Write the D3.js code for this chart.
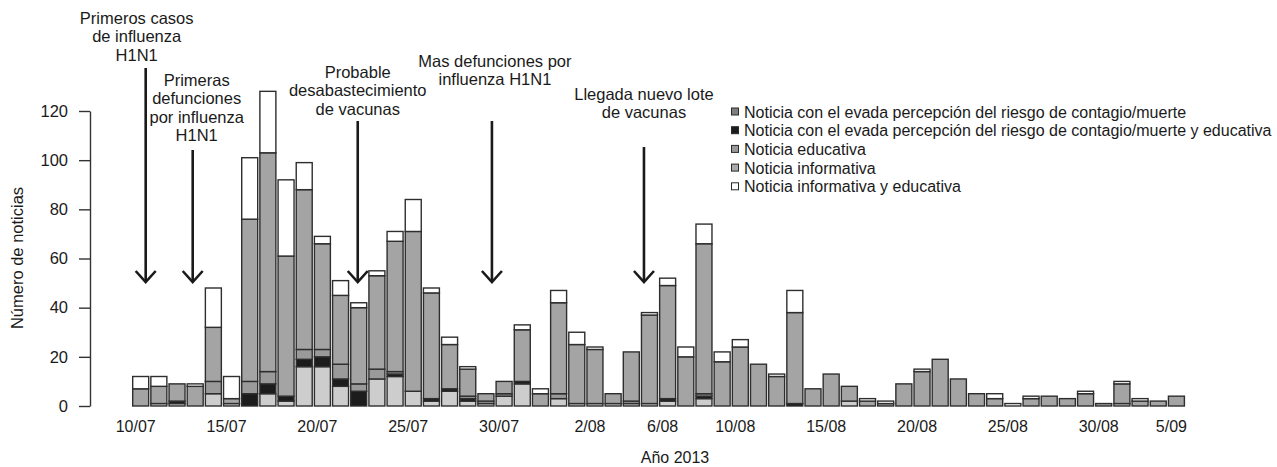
<!DOCTYPE html>
<html><head><meta charset="utf-8">
<script src="https://cdn.jsdelivr.net/npm/d3@7"></script>
<style>
body{margin:0;background:#fff}
svg{display:block}
text{font-family:"Liberation Sans",Arial,Helvetica,sans-serif;fill:#1a1a1a}
</style>
</head><body>
<svg id="c" width="1277" height="467"></svg>
<script>
// ---------- data ----------
const dates = ["10/07","11/07","12/07","13/07","14/07","15/07","16/07","17/07","18/07","19/07",
  "20/07","21/07","22/07","23/07","24/07","25/07","26/07","27/07","28/07","29/07",
  "30/07","31/07","1/08","2/08","3/08","4/08","5/08","6/08","7/08","8/08",
  "9/08","10/08","11/08","12/08","13/08","14/08","15/08","16/08","17/08","18/08",
  "19/08","20/08","21/08","22/08","23/08","24/08","25/08","26/08","27/08","28/08",
  "29/08","30/08","31/08","1/09","2/09","3/09","4/09","5/09"];
const riesgo      = [0,1,1,0,5,1,0,5,2,16, 16,8,0,11,12,6,2,6,2,1, 4,9,0,3,1,1,1,1,1,2, 0,3,0,0,0,0,0,0,0,2, 0,0,0,0,0,0,0,0,0,0, 0,0,0,0,1,0,0,0];
const riesgoEdu   = [0,0,1,0,0,0,5,4,2,3, 4,3,6,0,1,0,1,1,1,0, 0,1,0,0,0,0,0,0,0,1, 0,1,0,0,0,0,1,0,0,0, 0,0,0,0,0,0,0,0,0,0, 0,0,0,0,0,0,0,0];
const educativa   = [0,0,0,0,5,0,5,5,0,4, 3,6,3,4,1,0,0,0,1,1, 1,0,0,2,0,0,0,1,0,0, 0,1,0,0,0,0,0,0,0,0, 0,0,0,0,0,0,0,0,0,0, 0,0,0,0,0,0,0,0];
const informativa = [7,7,7,8,22,2,66,89,57,65, 43,28,31,38,53,65,43,18,11,3, 5,21,5,37,24,22,4,20,36,46, 20,61,18,24,17,12,37,7,13,6, 2,1,9,14,19,11,5,3,0,3, 4,3,5,1,8,2,2,4];
const infoEdu     = [5,4,0,1,16,9,25,25,31,11, 3,6,2,2,4,13,2,3,1,0, 0,2,2,5,5,1,0,0,1,3, 4,8,4,3,0,1,9,0,0,0, 1,1,0,1,0,0,0,2,1,1, 0,0,1,0,1,1,0,0];
const seriesNames = [
  "Noticia con el evada percepción del riesgo de contagio/muerte",
  "Noticia con el evada percepción del riesgo de contagio/muerte y educativa",
  "Noticia educativa",
  "Noticia informativa",
  "Noticia informativa y educativa"];
const seriesFill  = ["#cdcdcd","#1c1c1c","#9a9a9a","#a4a4a4","#ffffff"];
const legendFill  = ["#7e7e7e","#1c1c1c","#999999","#aaaaaa","#ffffff"];
const yTicks = [0,20,40,60,80,100,120];
const tickLabels = ["10/07","15/07","20/07","25/07","30/07","2/08","6/08","10/08","15/08","20/08","25/08","30/08","5/09"];
const tickAt     = ["10/07","15/07","20/07","25/07","30/07","4/08","8/08","12/08","17/08","22/08","27/08","1/09","5/09"];
const eventLines = [
  ["Primeros casos","de influenza","H1N1"],
  ["Primeras","defunciones","por influenza","H1N1"],
  ["Probable","desabastecimiento","de vacunas"],
  ["Mas defunciones por","influenza H1N1"],
  ["Llegada nuevo lote","de vacunas"]];
const eventAt = ["10/07","13/07","22/07","29/07","7/08"];

// ---------- layout ----------
const svg = d3.select("#c");
const keys = ["r","re","e","i","ie"];
const table = dates.map((d,k)=>({date:d, r:riesgo[k], re:riesgoEdu[k], e:educativa[k], i:informativa[k], ie:infoEdu[k]}));
const stack = d3.stack().keys(keys)(table);

const x = d3.scaleBand().domain(dates).range([131.6,1185.5]).paddingInner(0.12).paddingOuter(0.06);
const y = d3.scaleLinear().domain([0,120]).range([406,111]);

// bars
svg.append("g").selectAll("g").data(stack).join("g")
  .attr("fill",(d,k)=>seriesFill[k])
  .selectAll("rect").data(d=>d.filter(s=>s[1]>s[0])).join("rect")
  .attr("x",d=>x(d.data.date))
  .attr("width",x.bandwidth())
  .attr("y",d=>y(d[1]))
  .attr("height",d=>y(d[0])-y(d[1]))
  .attr("stroke","#2e2e2e").attr("stroke-width",1.4);

// y axis
const ya = svg.append("g").attr("transform","translate(90,0)")
  .call(d3.axisLeft(y).tickValues(yTicks).tickSize(11).tickSizeOuter(0).tickPadding(11));
ya.select(".domain").attr("stroke","#333").attr("stroke-width",1.4);
ya.selectAll(".tick line").attr("stroke","#333").attr("stroke-width",1.4);
ya.selectAll("text").style("font-size","16.5px").attr("fill","#1a1a1a");

svg.append("text").attr("transform","translate(23,258) rotate(-90)")
  .attr("text-anchor","middle").style("font-size","16.5px").text("Número de noticias");

// x labels
const off = -5;
svg.append("g").selectAll("text").data(tickLabels).join("text")
  .attr("x",(d,k)=>x(tickAt[k])+x.bandwidth()/2+off)
  .attr("y",432).attr("text-anchor","middle").style("font-size","16px").text(d=>d);
svg.append("text").attr("x",675).attr("y",463).attr("text-anchor","middle")
  .style("font-size","16px").text("Año 2013");

// events
const evLayout = [
  {adx:5,    tdx:-9, firstLine:24, arrowTop:68},
  {adx:-2.5, tdx:4,  firstLine:86, arrowTop:150},
  {adx:-1,   tdx:0,  firstLine:78, arrowTop:121},
  {adx:6,    tdx:3,  firstLine:67, arrowTop:121},
  {adx:-5.5, tdx:0,  firstLine:100, arrowTop:147}];
const tipY = 282, lh = 18.3;
eventLines.forEach((lines,k)=>{
  const L = evLayout[k];
  const cx = x(eventAt[k]) + x.bandwidth()/2 + L.adx;
  const g = svg.append("g");
  g.selectAll("text").data(lines).join("text")
    .attr("x",cx+L.tdx).attr("y",(d,j)=>L.firstLine+j*lh)
    .attr("text-anchor","middle").style("font-size","16.5px").text(d=>d);
  g.append("line").attr("x1",cx).attr("x2",cx).attr("y1",L.arrowTop).attr("y2",tipY-1)
    .attr("stroke","#1a1a1a").attr("stroke-width",2.6);
  g.append("path").attr("d",`M${cx-10},${tipY-11}L${cx},${tipY}L${cx+10},${tipY-11}`)
    .attr("fill","none").attr("stroke","#1a1a1a").attr("stroke-width",2.6);
});

// legend
const lg = svg.append("g").attr("transform","translate(731,112)");
seriesNames.forEach((n,k)=>{
  lg.append("rect").attr("x",0.5).attr("y",k*18.7-4).attr("width",7).attr("height",7)
    .attr("fill",legendFill[k]).attr("stroke","#2a2a2a").attr("stroke-width",1);
  lg.append("text").attr("x",13).attr("y",k*18.7+5.5).style("font-size","16px").text(n);
});
</script>
</body></html>
